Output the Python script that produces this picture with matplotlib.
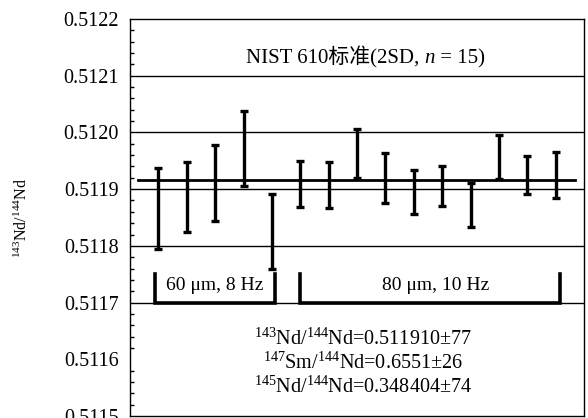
import matplotlib
matplotlib.use('Agg')
import matplotlib.pyplot as plt
from matplotlib.ticker import MultipleLocator, FormatStrFormatter

plt.rcParams['font.family'] = ['Liberation Serif', 'Noto Sans CJK SC']
plt.rcParams['mathtext.fontset'] = 'custom'
plt.rcParams['mathtext.rm'] = 'Liberation Serif'
plt.rcParams['mathtext.it'] = 'Liberation Serif:italic'

# measured 143Nd/144Nd of NIST 610, with 2SD
spots = list(range(1, 16))
ratio = [0.511866, 0.511886, 0.5119105, 0.511972, 0.5118255,
         0.5119095, 0.511907, 0.5119625, 0.5119195, 0.511895,
         0.511906, 0.5118725, 0.5119565, 0.511925, 0.5119245]
err_2sd = [0.000072, 0.000062, 0.0000665, 0.000066, 0.0000655,
           0.0000405, 0.000040, 0.0000435, 0.0000435, 0.000039,
           0.000035, 0.0000385, 0.0000385, 0.000034, 0.0000405]
mean_line = 0.511916
grid_levels = [0.5117, 0.5118, 0.5119, 0.5120, 0.5121]

# laser conditions: (label, first spot edge, last spot edge)
groups = [('60 μm, 8 Hz', 0.88, 5.11), ('80 μm, 10 Hz', 5.99, 15.15)]
group_label_x = [3.0, 10.78]

fig = plt.figure(figsize=(5.88, 4.18), dpi=100)
ax = fig.add_axes([130 / 588, 2 / 418, 454 / 588, 397 / 418])

ax.hlines(grid_levels, 0, 16, color='black', lw=1, zorder=1)
ax.errorbar(spots, ratio, yerr=err_2sd, fmt='none', ecolor='black',
            elinewidth=2.4, capsize=3, capthick=2.4, zorder=3)
ax.plot([0.28, 15.68], [mean_line, mean_line], color='black', lw=2, zorder=3)

# brackets for the two spot sizes
base, top = 0.5117, 0.51175
for (label, x0, x1), lx in zip(groups, group_label_x):
    ax.plot([x0, x0, x1, x1], [top, base, base, top], color='black',
            lw=2.6, solid_joinstyle='miter', zorder=3)
    ax.text(lx, 0.51173, label, ha='center', va='center', fontsize=14)

# title in three pieces so the CJK part keeps its font fallback
t1 = ax.text(4.09, 0.5121325, 'NIST 610标准(2SD, ', ha='left',
             va='center', fontsize=15)
t2 = ax.annotate('n', xy=(1, 0), xycoords=t1, ha='left', va='bottom',
                 fontsize=15, style='italic')
ax.annotate(' = 15)', xy=(1, 0), xycoords=t2, ha='left', va='bottom',
            fontsize=15)

ax.text(8.2, 0.511593,
        '$^{143}$Nd/$^{144}$Nd=0.511910±77\n'
        '$^{147}$Sm/$^{144}$Nd=0.6551±26\n'
        '$^{145}$Nd/$^{144}$Nd=0.348404±74',
        ha='center', va='center', fontsize=14.5, linespacing=1.15)

ax.set_xlim(0, 16)
ax.set_ylim(0.5115, 0.5122)
ax.yaxis.set_major_locator(MultipleLocator(0.0001))
ax.yaxis.set_minor_locator(MultipleLocator(0.00002))
ax.yaxis.set_major_formatter(FormatStrFormatter('%.4f'))
ax.set_xticks([])
ax.tick_params(axis='y', which='both', direction='in', labelsize=14.5,
               pad=8, right=False)
ax.tick_params(axis='y', which='major', length=0)
ax.tick_params(axis='y', which='minor', length=3, width=1)
for s in ax.spines.values():
    s.set_linewidth(1)

ax.set_ylabel('$^{143}$Nd/$^{144}$Nd', fontsize=11.5, labelpad=23)

fig.savefig('out.png', dpi=100)
